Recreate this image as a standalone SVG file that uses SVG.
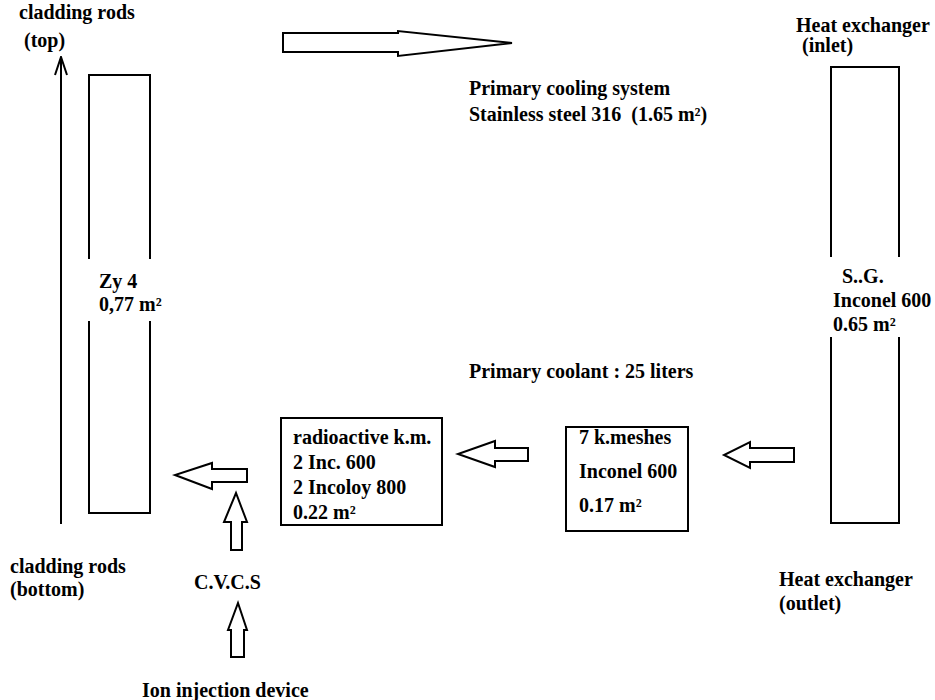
<svg xmlns="http://www.w3.org/2000/svg" width="935" height="700" viewBox="0 0 935 700">
<style>
text{font-family:"Liberation Serif","Times New Roman",serif;font-weight:bold;font-size:20px;fill:#000}
.box{fill:none;stroke:#000;stroke-width:2}
.arr{fill:#fff;stroke:#000;stroke-width:2;stroke-linejoin:miter}
.bg{fill:#fff;stroke:none}
</style>
<defs>
<marker id="open" viewBox="0 0 20 14" refX="19" refY="7" markerWidth="20" markerHeight="14" markerUnits="userSpaceOnUse" orient="auto">
<path d="M1,1 L19,7 L1,13" fill="none" stroke="#000" stroke-width="2"/>
</marker>
</defs>
<rect width="935" height="700" fill="#fff"/>
<g id="connectors">
<line x1="61" y1="524" x2="61" y2="57" stroke="#000" stroke-width="2" marker-end="url(#open)"/>
<polygon class="arr" points="283,33 398,33 398,31 512,43 398,56 398,52 283,52"/>
<polygon class="arr" points="247,469 212,469 212,463 175,475 212,489 212,482 247,482"/>
<polygon class="arr" points="231,550 231,522 224,522 236,493 247,522 242,522 242,550"/>
<polygon class="arr" points="231,657 231,630 228,630 238,603 247,630 244,630 244,657"/>
<polygon class="arr" points="528,448 495,448 495,441 458,454 495,467 495,461 528,461"/>
<polygon class="arr" points="794,448 750,448 750,442 724,455 750,468 750,462 794,462"/>
</g>
<g id="cladding">
<rect class="box" x="89" y="75" width="61" height="438"/>
<rect class="bg" x="80" y="259" width="95" height="62"/>
<text x="99" y="288">Zy 4</text>
<text x="99" y="311">0,77 m²</text>
</g>
<g id="heat-exchanger">
<rect class="box" x="831" y="67" width="68" height="456"/>
<rect class="bg" x="820" y="257" width="115" height="80"/>
<text x="842" y="283">S..G.</text>
<text x="833" y="307">Inconel 600</text>
<text x="833" y="331">0.65 m²</text>
</g>
<g id="radioactive">
<rect class="box" x="281" y="418" width="161" height="107"/>
<text x="293" y="444">radioactive k.m.</text>
<text x="293" y="469">2 Inc. 600</text>
<text x="293" y="494">2 Incoloy 800</text>
<text x="293" y="519">0.22 m²</text>
</g>
<g id="kmeshes">
<rect class="box" x="566" y="427" width="122" height="104"/>
<text x="579" y="444">7 k.meshes</text>
<text x="579" y="478">Inconel 600</text>
<text x="579" y="512">0.17 m²</text>
</g>
<g id="labels">
<text x="19" y="19">cladding rods</text>
<text x="24" y="47">(top)</text>
<text x="469" y="95">Primary cooling system</text>
<text x="469" y="121" xml:space="preserve">Stainless steel 316  (1.65 m²)</text>
<text x="796" y="32">Heat exchanger</text>
<text x="802" y="52">(inlet)</text>
<text x="469" y="378">Primary coolant : 25 liters</text>
<text x="10" y="573">cladding rods</text>
<text x="10" y="596">(bottom)</text>
<text x="194" y="589">C.V.C.S</text>
<text x="779" y="586">Heat exchanger</text>
<text x="779" y="610">(outlet)</text>
<text x="142" y="697">Ion injection device</text>
</g>
</svg>
